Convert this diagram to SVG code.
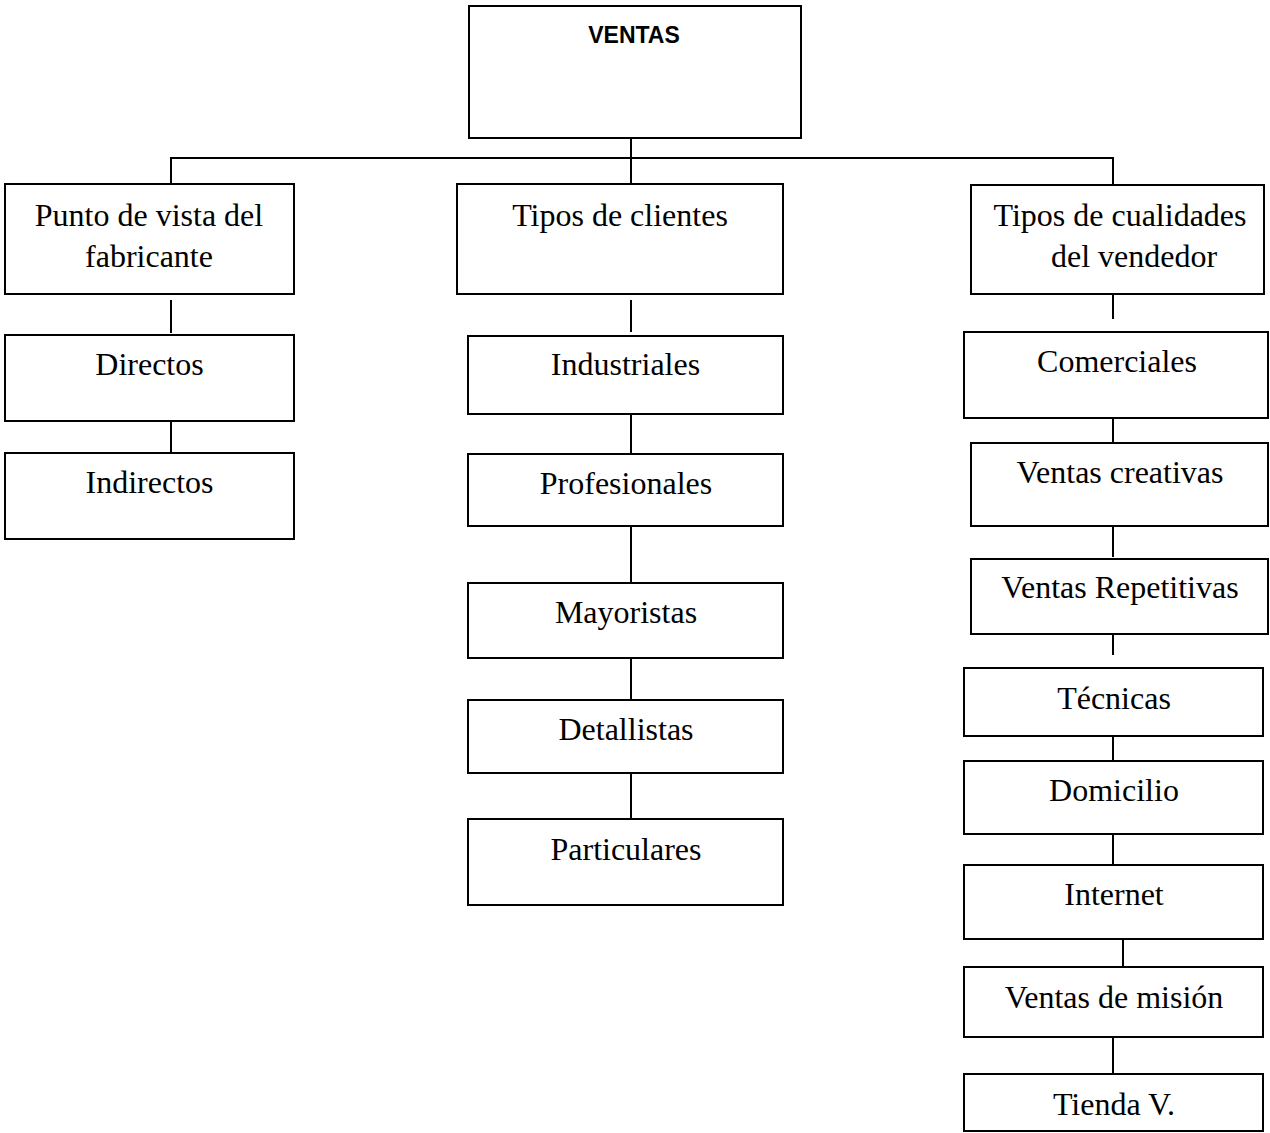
<svg xmlns="http://www.w3.org/2000/svg" width="1270" height="1133" viewBox="0 0 1270 1133">
<style>
rect{fill:#fff;stroke:#000;stroke-width:2}
line{stroke:#000;stroke-width:2}
text{font-family:"Liberation Serif","Times New Roman",serif;font-size:32px;fill:#000;text-anchor:middle}
text.b{font-family:"Liberation Sans",Arial,sans-serif;font-weight:bold;font-size:23px}
</style>
<rect x="0" y="0" width="1270" height="1133" style="stroke:none;fill:#fff"/>
<g id="connectors">
<line x1="631" y1="133" x2="631" y2="188"/>
<line x1="170" y1="158" x2="1114" y2="158"/>
<line x1="171" y1="157" x2="171" y2="186"/>
<line x1="1113" y1="157" x2="1113" y2="188"/>
<line x1="171" y1="300" x2="171" y2="333"/>
<line x1="171" y1="417" x2="171" y2="453"/>
<line x1="631" y1="300" x2="631" y2="332"/>
<line x1="631" y1="414" x2="631" y2="456"/>
<line x1="631" y1="524" x2="631" y2="583"/>
<line x1="631" y1="656" x2="631" y2="704"/>
<line x1="631" y1="771" x2="631" y2="819"/>
<line x1="1113" y1="290" x2="1113" y2="319"/>
<line x1="1113" y1="415" x2="1113" y2="447"/>
<line x1="1113" y1="526" x2="1113" y2="557"/>
<line x1="1113" y1="630" x2="1113" y2="655"/>
<line x1="1113" y1="736" x2="1113" y2="763"/>
<line x1="1113" y1="831" x2="1113" y2="865"/>
<line x1="1123" y1="935" x2="1123" y2="967"/>
<line x1="1113" y1="1034" x2="1113" y2="1074"/>
</g>
<g id="n-ventas"><rect x="469" y="6" width="332" height="132"/><text class="b" x="634" y="43">VENTAS</text></g>
<g id="n-punto"><rect x="5" y="184" width="289" height="110"/><text x="149" y="226">Punto de vista del</text><text x="149" y="267">fabricante</text></g>
<g id="n-clientes"><rect x="457" y="184" width="326" height="110"/><text x="620" y="226">Tipos de clientes</text></g>
<g id="n-cualidades"><rect x="971" y="185" width="293" height="109"/><text x="1120" y="226">Tipos de cualidades</text><text x="1134" y="267">del vendedor</text></g>
<g id="n-directos"><rect x="5" y="335" width="289" height="86"/><text x="149.5" y="375">Directos</text></g>
<g id="n-indirectos"><rect x="5" y="453" width="289" height="86"/><text x="149.5" y="493">Indirectos</text></g>
<g id="n-industriales"><rect x="468" y="336" width="315" height="78"/><text x="625.5" y="375">Industriales</text></g>
<g id="n-profesionales"><rect x="468" y="454" width="315" height="72"/><text x="626" y="494">Profesionales</text></g>
<g id="n-mayoristas"><rect x="468" y="583" width="315" height="75"/><text x="626" y="623">Mayoristas</text></g>
<g id="n-detallistas"><rect x="468" y="700" width="315" height="73"/><text x="626" y="740">Detallistas</text></g>
<g id="n-particulares"><rect x="468" y="819" width="315" height="86"/><text x="626" y="860">Particulares</text></g>
<g id="n-comerciales"><rect x="964" y="332" width="304" height="86"/><text x="1117" y="372">Comerciales</text></g>
<g id="n-creativas"><rect x="971" y="443" width="297" height="83"/><text x="1120" y="483">Ventas creativas</text></g>
<g id="n-repetitivas"><rect x="971" y="559" width="297" height="75"/><text x="1120" y="598">Ventas Repetitivas</text></g>
<g id="n-tecnicas"><rect x="964" y="668" width="299" height="68"/><text x="1114" y="709">Técnicas</text></g>
<g id="n-domicilio"><rect x="964" y="761" width="299" height="73"/><text x="1114" y="801">Domicilio</text></g>
<g id="n-internet"><rect x="964" y="865" width="299" height="74"/><text x="1114" y="905">Internet</text></g>
<g id="n-mision"><rect x="964" y="967" width="299" height="70"/><text x="1114" y="1008">Ventas de misión</text></g>
<g id="n-tienda"><rect x="964" y="1074" width="299" height="57"/><text x="1114" y="1115">Tienda V.</text></g>
</svg>
